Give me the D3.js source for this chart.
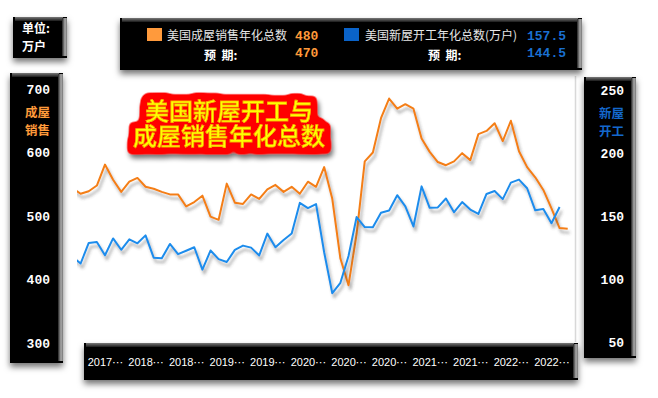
<!DOCTYPE html>
<html><head><meta charset="utf-8">
<script src="https://cdn.jsdelivr.net/npm/d3@7/dist/d3.min.js"></script>
<style>body{margin:0;background:#fff}svg{display:block}</style>
</head><body><svg id="c" width="658" height="398"></svg>
<script>
// ---------- data ----------
const categories = ["2017-08","2017-09","2017-10","2017-11","2017-12",
 "2018-01","2018-02","2018-03","2018-04","2018-05","2018-06","2018-07","2018-08","2018-09","2018-10","2018-11","2018-12",
 "2019-01","2019-02","2019-03","2019-04","2019-05","2019-06","2019-07","2019-08","2019-09","2019-10","2019-11","2019-12",
 "2020-01","2020-02","2020-03","2020-04","2020-05","2020-06","2020-07","2020-08","2020-09","2020-10","2020-11","2020-12",
 "2021-01","2021-02","2021-03","2021-04","2021-05","2021-06","2021-07","2021-08","2021-09","2021-10","2021-11","2021-12",
 "2022-01","2022-02","2022-03","2022-04","2022-05","2022-06","2022-07","2022-08","2022-09"];
// 美国成屋销售年化总数 (万户)
const salesValues = [544,535,539,548,581,557,
 538,554,560,546,543,538,534,534,515,522,532,499,
 494,551,521,519,534,527,542,549,538,546,535,554,
 546,577,527,433,391,472,586,600,654,685,669,676,
 669,622,601,585,580,586,599,588,629,634,646,618,
 650,602,577,561,541,512,481,480];
// 美国新屋开工年化总数 (万户)
const startsValues = [118.0,112.7,129.0,129.7,119.2,
 132.6,123.6,131.9,128.7,135.0,117.3,116.8,128.2,120.1,122.8,125.6,107.8,
 123.0,116.2,113.9,123.5,126.9,125.3,119.1,136.4,125.6,131.4,136.5,160.8,
 156.7,159.9,121.6,89.1,97.4,118.6,149.6,141.6,141.5,153.0,154.7,166.9,
 158.0,142.1,173.9,156.9,157.2,164.3,153.4,161.5,155.5,152.0,167.9,170.2,
 163.8,176.9,179.3,172.4,154.9,155.9,144.6,157.5];
const leftTicks = [300,400,500,600,700];
const rightTicks = [50,100,150,200,250];
const xTickCategories = ["2017-12","2018-05","2018-10","2019-03","2019-08","2020-01","2020-06","2020-11","2021-04","2021-09","2022-02","2022-07"];
const seriesNames = ["美国成屋销售年化总数","美国新屋开工年化总数(万户)"];
const seriesActual = ["480","157.5"];
const seriesForecast = ["470","144.5"];
const titleLines = ["美国新屋开工与","成屋销售年化总数"];
const leftAxisName = ["成屋","销售"];
const rightAxisName = ["新屋","开工"];

// ---------- setup ----------
const ORANGE_LINE = "#f47e17", BLUE_LINE = "#1c8cec";
const ORANGE_TXT = "#ff9a3a", BLUE_TXT = "#1468cc";
const svg = d3.select("#c");
svg.append("rect").attr("width",658).attr("height",398).attr("fill","#fff");
const defs = svg.append("defs");

const fb = defs.append("filter").attr("id","boxShadow").attr("x","-30%").attr("y","-30%").attr("width","160%").attr("height","160%");
fb.append("feDropShadow").attr("dx",0).attr("dy",4).attr("stdDeviation",3).attr("flood-color","#000").attr("flood-opacity",0.55);
const fl = defs.append("filter").attr("id","lineShadow").attr("x","-10%").attr("y","-10%").attr("width","120%").attr("height","130%");
fl.append("feDropShadow").attr("dx",2).attr("dy",4).attr("stdDeviation",1.6).attr("flood-color","#444").attr("flood-opacity",0.45);

// title: rounded red blob + drop shadow behind yellow glyphs
const ft = defs.append("filter").attr("id","titleFx").attr("x","-20%").attr("y","-40%").attr("width","140%").attr("height","190%");
ft.append("feMorphology").attr("in","SourceAlpha").attr("operator","dilate").attr("radius",6).attr("result","dil");
ft.append("feGaussianBlur").attr("in","dil").attr("stdDeviation",2.6).attr("result","dilS");
ft.append("feComponentTransfer").attr("in","dilS").attr("result","dilA")
  .append("feFuncA").attr("type","linear").attr("slope",4).attr("intercept",-1.2);
ft.append("feFlood").attr("flood-color","#ff0000").attr("result","red");
ft.append("feComposite").attr("in","red").attr("in2","dilA").attr("operator","in").attr("result","blob");
ft.append("feGaussianBlur").attr("in","dilA").attr("stdDeviation",2.5).attr("result","sb");
ft.append("feOffset").attr("in","sb").attr("dx",2).attr("dy",4).attr("result","so");
ft.append("feComponentTransfer").attr("in","so").attr("result","shadow")
  .append("feFuncA").attr("type","linear").attr("slope",0.55);
const fm = ft.append("feMerge");
fm.append("feMergeNode").attr("in","shadow");
fm.append("feMergeNode").attr("in","blob");
fm.append("feMergeNode").attr("in","SourceGraphic");

const gTop = defs.append("linearGradient").attr("id","gTop").attr("x1",0).attr("y1",0).attr("x2",0).attr("y2",1);
gTop.append("stop").attr("offset",0).attr("stop-color","#7a7a7a");
gTop.append("stop").attr("offset",1).attr("stop-color","#1a1a1a");
const gRight = defs.append("linearGradient").attr("id","gRight").attr("x1",0).attr("y1",0).attr("x2",1).attr("y2",0);
gRight.append("stop").attr("offset",0).attr("stop-color","#222");
gRight.append("stop").attr("offset",0.6).attr("stop-color","#aaa");
gRight.append("stop").attr("offset",1).attr("stop-color","#777");

function box(x,y,w,h){
  const g = svg.append("g");
  g.append("rect").attr("x",x).attr("y",y).attr("width",w).attr("height",h).attr("fill","#000").attr("filter","url(#boxShadow)");
  g.append("rect").attr("x",x+2).attr("y",y).attr("width",w-6).attr("height",4).attr("fill","url(#gTop)");
  g.append("rect").attr("x",x+w-5).attr("y",y+1).attr("width",5).attr("height",h-3).attr("fill","url(#gRight)");
  return g;
}

// ---------- scales ----------
const x = d3.scaleLinear().domain([0, categories.length-1]).range([72.5, 567.7]);
const yL = d3.scaleLinear().domain([300,700]).range([343,89]);
const yR = d3.scaleLinear().domain([50,250]).range([342.5,90.5]);

// plot frame hint
svg.append("line").attr("x1",575.5).attr("x2",575.5).attr("y1",76).attr("y2",342).attr("stroke","#d8d8d8").attr("stroke-width",1.5);

// ---------- lines ----------
defs.append("clipPath").attr("id","plotClip").append("rect").attr("x",77).attr("y",70).attr("width",498).attr("height",290);
const plot = svg.append("g").attr("clip-path","url(#plotClip)");
const lineS = d3.line().x((d,i)=>x(i)).y(d=>yL(d));
const lineB = d3.line().x((d,i)=>x(i)).y(d=>yR(d));
plot.append("path").datum(salesValues).attr("d",lineS).attr("fill","none").attr("stroke",ORANGE_LINE).attr("stroke-width",2).attr("stroke-linejoin","round").attr("filter","url(#lineShadow)");
plot.append("path").datum(startsValues).attr("d",lineB).attr("fill","none").attr("stroke",BLUE_LINE).attr("stroke-width",2).attr("stroke-linejoin","round").attr("filter","url(#lineShadow)");

// ---------- boxes ----------
// unit box
const ub = box(13,17,54,41);
const ut = ub.append("text").attr("fill","#fff").attr("font-family","'Noto Sans CJK SC'").attr("font-weight","bold").attr("font-size",12);
ut.append("tspan").attr("x",22).attr("y",32.5).text("单位:");
ut.append("tspan").attr("x",22).attr("y",50.5).text("万户");

// legend box
const lb = box(120,18,462,52);
const legendX = [[147,167,295,204],[344,365,527,428]];
const legendCol = [["#ff9a3c",ORANGE_TXT],["#0a63c9","#1a70d2"]];
seriesNames.forEach((nm,i)=>{
  const [sq,tx,vx,px] = legendX[i];
  lb.append("rect").attr("x",sq).attr("y",28).attr("width",15).attr("height",13).attr("fill",legendCol[i][0]);
  lb.append("text").attr("x",tx).attr("y",39.5).attr("fill","#e6e6e6").attr("font-family","'Noto Sans CJK SC'").attr("font-size",12).text(nm);
  lb.append("text").attr("x",vx).attr("y",39.5).attr("fill",legendCol[i][1]).attr("font-family","'Liberation Mono'").attr("font-weight","bold").attr("font-size",13).text(seriesActual[i]);
  lb.append("text").attr("x",px).attr("y",59.5).attr("fill","#fff").attr("font-family","'Noto Sans CJK SC'").attr("font-weight","bold").attr("font-size",12).attr("xml:space","preserve").text("预  期:");
  lb.append("text").attr("x",vx).attr("y",57).attr("fill",legendCol[i][1]).attr("font-family","'Liberation Mono'").attr("font-weight","bold").attr("font-size",13).text(seriesForecast[i]);
});

// left axis box
const la = box(10,73,53,290);
const axL = la.append("g").attr("transform","translate(52,0)").call(d3.axisLeft(yL).tickValues(leftTicks).tickSize(0).tickPadding(2));
axL.select(".domain").remove();
axL.selectAll("text").attr("fill","#fff").attr("font-family","'Liberation Mono'").attr("font-weight","bold").attr("font-size",13);
const lt = la.append("text").attr("text-anchor","end").attr("fill",ORANGE_TXT).attr("font-family","'Noto Sans CJK SC'").attr("font-weight","bold").attr("font-size",12.5);
leftAxisName.forEach((t,i)=>lt.append("tspan").attr("x",50).attr("y",116.5+18*i).text(t));

// right axis box
const ra = box(584,77,52,281);
const axR = ra.append("g").attr("transform","translate(626,0)").call(d3.axisLeft(yR).tickValues(rightTicks).tickSize(0).tickPadding(2));
axR.select(".domain").remove();
axR.selectAll("text").attr("fill","#fff").attr("font-family","'Liberation Mono'").attr("font-weight","bold").attr("font-size",13);
const rt = ra.append("text").attr("text-anchor","end").attr("fill",BLUE_TXT).attr("font-family","'Noto Sans CJK SC'").attr("font-weight","bold").attr("font-size",12.5);
rightAxisName.forEach((t,i)=>rt.append("tspan").attr("x",624).attr("y",117.5+18*i).text(t));

// bottom axis box
const ba = box(84,343,494,37);
const axB = ba.append("g").attr("transform","translate(0,356)")
  .call(d3.axisBottom(x).tickValues(xTickCategories.map(c=>categories.indexOf(c))).tickSize(0).tickPadding(2)
    .tickFormat(i=>categories[i].slice(0,4)+"⋯"));
axB.select(".domain").remove();
axB.selectAll("text").attr("fill","#fff").attr("font-family","'Liberation Sans','DejaVu Sans'").attr("font-size",11);

// ---------- title ----------
const title = svg.append("text").attr("text-anchor","middle").attr("filter","url(#titleFx)")
  .attr("font-family","'Noto Sans CJK SC'").attr("font-size",24).attr("font-weight",500)
  .attr("fill","#ffff00").attr("stroke","#f0a000").attr("stroke-width",0.5);
titleLines.forEach((t,i)=>{
  title.append("tspan").attr("x",229).attr("y",[120,145][i]).text(t);
});
</script></body></html>
